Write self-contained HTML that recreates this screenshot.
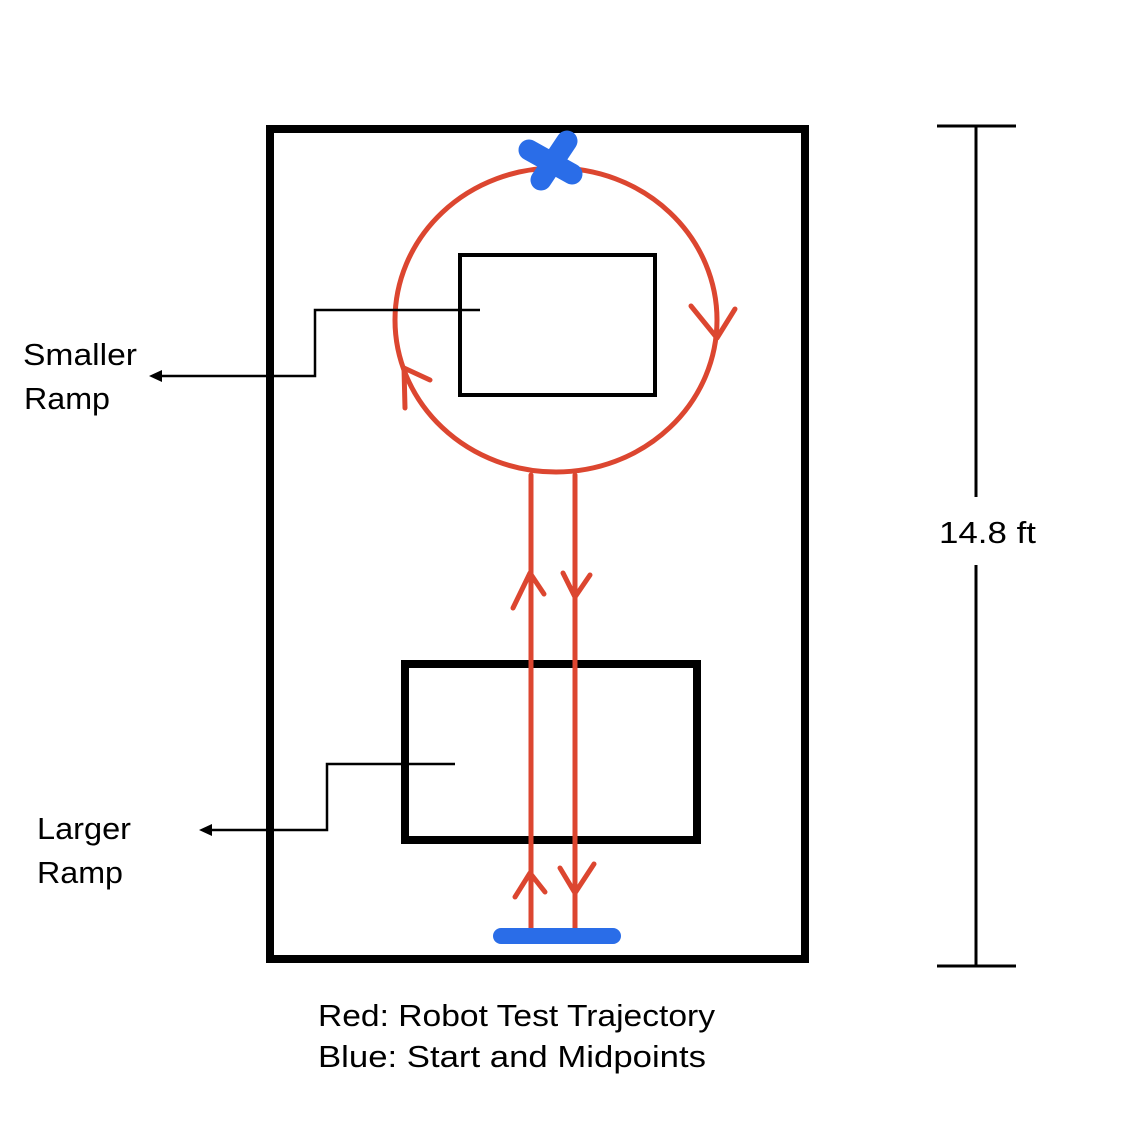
<!DOCTYPE html>
<html><head><meta charset="utf-8"><style>
html,body{margin:0;padding:0;background:#fff;}
svg{display:block;}
text{font-family:"Liberation Sans",sans-serif;font-size:31px;fill:#000;}
</style></head><body>
<svg width="1143" height="1125" viewBox="0 0 1143 1125" xmlns="http://www.w3.org/2000/svg">
<rect width="1143" height="1125" fill="#fff"/>
<rect x="270" y="129" width="535" height="830" fill="none" stroke="#000" stroke-width="8"/>
<rect x="460" y="255" width="195" height="140" fill="none" stroke="#000" stroke-width="4"/>
<rect x="405" y="664" width="292" height="176" fill="none" stroke="#000" stroke-width="8"/>
<ellipse cx="556" cy="320" rx="161" ry="152" fill="none" stroke="#dc4630" stroke-width="5"/>
<g stroke="#dc4630" stroke-width="5" fill="none" stroke-linecap="round" stroke-linejoin="round">
<line x1="531" y1="475" x2="531" y2="936"/>
<line x1="575" y1="475" x2="575" y2="936"/>
<polyline points="691,306 717,338 735,309"/>
<polyline points="405,408 404,368 430,380"/>
<polyline points="513,608 530,573 544,594"/>
<polyline points="563,573 575,597 590,575"/>
<polyline points="515,897 530,873 545,892"/>
<polyline points="560,868 575,893 594,864"/>
</g>
<rect x="493" y="928" width="128" height="16" rx="8" fill="#2a6de8"/>
<g stroke="#2a6de8" stroke-width="21" stroke-linecap="round">
<line x1="529" y1="150" x2="572" y2="174"/>
<line x1="567" y1="141" x2="541" y2="180"/>
</g>
<g stroke="#000" stroke-width="2.5" fill="none">
<polyline points="480,310 315,310 315,376 160,376"/>
<polyline points="455,764 327,764 327,830 210,830"/>
</g>
<polygon points="149,376 162,370 162,382" fill="#000"/>
<polygon points="199,830 212,824 212,836" fill="#000"/>
<g stroke="#000" stroke-width="3">
<line x1="976" y1="126" x2="976" y2="497"/>
<line x1="976" y1="565" x2="976" y2="966"/>
<line x1="937" y1="126" x2="1016" y2="126"/>
<line x1="937" y1="966" x2="1016" y2="966"/>
</g>
<text x="939" y="543" textLength="97" lengthAdjust="spacingAndGlyphs">14.8 ft</text>
<text x="23" y="365" textLength="114" lengthAdjust="spacingAndGlyphs">Smaller</text>
<text x="24" y="409" textLength="86" lengthAdjust="spacingAndGlyphs">Ramp</text>
<text x="37" y="839" textLength="94" lengthAdjust="spacingAndGlyphs">Larger</text>
<text x="37" y="883" textLength="86" lengthAdjust="spacingAndGlyphs">Ramp</text>
<text x="318" y="1026" textLength="397" lengthAdjust="spacingAndGlyphs">Red: Robot Test Trajectory</text>
<text x="318" y="1067" textLength="388" lengthAdjust="spacingAndGlyphs">Blue: Start and Midpoints</text>
</svg>
</body></html>
